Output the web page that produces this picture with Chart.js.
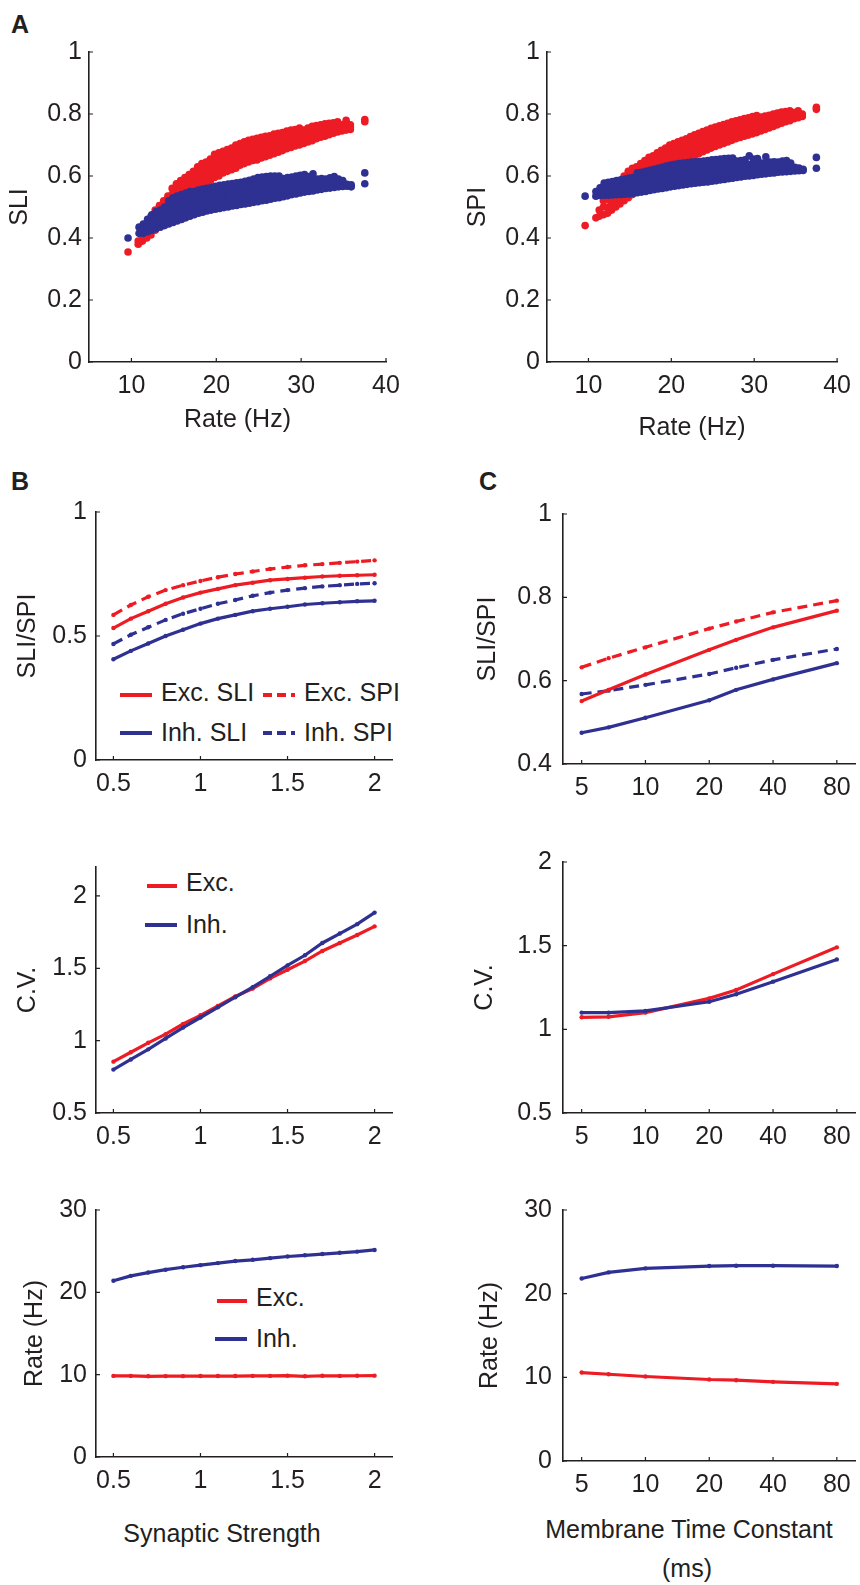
<!DOCTYPE html>
<html>
<head>
<meta charset="utf-8">
<script src="https://cdn.jsdelivr.net/npm/chart.js@4.4.1/dist/chart.umd.min.js"></script>
<style>
  body { margin: 0; background: #fff; width: 860px; height: 1585px; position: relative; overflow: hidden;
         font-family: Arial, 'Liberation Sans', sans-serif; color: #231f20; }
  canvas { position: absolute; }
  .t { position: absolute; font-size: 25px; line-height: 30px; white-space: nowrap; }
  .letter { position: absolute; font-weight: bold; font-size: 25px; line-height: 25px; }
  .ln { position: absolute; height: 4px; }
</style>
</head>
<body>
<div class="letter" style="left:11px;top:12px">A</div>
<div class="letter" style="left:11px;top:469px">B</div>
<div class="letter" style="left:479px;top:469px">C</div>

<!-- legend, B top -->
<div class="ln" style="left:120px;top:693px;width:32px;background:#ed1c24"></div>
<div class="t" style="left:161px;top:677px">Exc. SLI</div>
<div class="ln" style="left:263px;top:693px;width:32px;background:repeating-linear-gradient(90deg,#ed1c24 0 9px,transparent 9px 14px)"></div>
<div class="t" style="left:304px;top:677px">Exc. SPI</div>
<div class="ln" style="left:120px;top:731px;width:32px;background:#2e3192"></div>
<div class="t" style="left:161px;top:717px">Inh. SLI</div>
<div class="ln" style="left:263px;top:731px;width:32px;background:repeating-linear-gradient(90deg,#2e3192 0 9px,transparent 9px 14px)"></div>
<div class="t" style="left:304px;top:717px">Inh. SPI</div>

<!-- legend, B middle -->
<div class="ln" style="left:147px;top:884px;width:30px;background:#ed1c24"></div>
<div class="t" style="left:186px;top:867px">Exc.</div>
<div class="ln" style="left:145px;top:923px;width:32px;background:#2e3192"></div>
<div class="t" style="left:186px;top:909px">Inh.</div>

<!-- legend, B bottom -->
<div class="ln" style="left:217px;top:1299px;width:30px;background:#ed1c24"></div>
<div class="t" style="left:256px;top:1282px">Exc.</div>
<div class="ln" style="left:215px;top:1337px;width:32px;background:#2e3192"></div>
<div class="t" style="left:256px;top:1323px">Inh.</div>

<div class="t" style="left:112px;top:1518px;width:220px;text-align:center">Synaptic Strength</div>
<div class="t" style="left:529px;top:1514px;width:320px;text-align:center">Membrane Time Constant</div>
<div class="t" style="left:637px;top:1553px;width:100px;text-align:center">(ms)</div>

<script>
const RED = '#ed1c24';
const BLUE = '#2e3192';
const INK = '#231f20';
const FAMILY = "Arial, 'Liberation Sans', sans-serif";
const FS = 25;

// ---- A: scatter, columns of [rate, values...] ----
const excSliCols = [
  [9.6,.355],[10.8,.38,.39],[11.3,.39,.405,.42],[11.8,.40,.42,.445],
  [12.3,.41,.425,.44,.455,.47],[12.8,.425,.441,.457,.473,.49],[13.3,.44,.456,.472,.488,.505],
  [13.8,.455,.471,.487,.503,.52],[14.3,.47,.486,.502,.518,.535],[14.8,.49,.507,.524,.541,.56],
  [15.3,.50,.519,.538,.557,.575],[15.8,.515,.532,.55,.568,.585],[16.3,.525,.542,.56,.578,.595],
  [16.8,.54,.556,.572,.588,.605],[17.3,.55,.566,.582,.598,.615],[17.8,.56,.577,.594,.611,.63],
  [18.3,.57,.587,.604,.621,.64],[18.8,.58,.596,.612,.628,.645],[19.3,.585,.602,.619,.636,.655],
  [19.8,.595,.613,.631,.649,.67],[20.3,.60,.618,.636,.654,.675],[20.8,.61,.627,.644,.661,.68],
  [21.3,.615,.632,.649,.667,.685],[21.8,.62,.637,.654,.672,.69],[22.3,.625,.644,.662,.681,.70],
  [22.8,.635,.652,.669,.687,.705],[23.3,.64,.657,.674,.692,.71],[23.8,.645,.662,.679,.697,.715],
  [24.3,.65,.667,.684,.701,.718],[24.8,.652,.67,.688,.705,.722],[25.3,.658,.675,.692,.708,.725],
  [25.8,.662,.679,.695,.712,.728],[26.3,.667,.683,.699,.715,.73],[26.8,.672,.688,.704,.72,.735],
  [27.3,.677,.692,.708,.723,.738],[27.8,.682,.697,.712,.726,.74],[28.3,.688,.702,.716,.731,.745],
  [28.8,.692,.706,.72,.734,.748],[29.3,.697,.71,.723,.737,.75],[29.8,.70,.714,.728,.741,.755],
  [30.3,.705,.72,.734,.748],[30.8,.71,.725,.74,.755],[31.3,.714,.729,.745,.76],[31.8,.72,.734,.749,.763],
  [32.3,.725,.738,.752,.765],[32.8,.728,.742,.755,.768],[33.3,.733,.746,.758,.77],[33.8,.738,.75,.762,.772],
  [34.3,.742,.753,.764,.775],[34.8,.745,.756,.765],[35.3,.748,.76,.77,.78],[35.8,.75,.758,.765],[37.5,.775,.782]
];
const inhSliCols = [
  [9.6,.40],[10.9,.415,.435],[11.4,.415,.43,.445],[11.9,.42,.44,.46],
  [12.4,.425,.445,.465,.475],[12.9,.43,.45,.47,.485],[13.4,.435,.455,.475,.49],
  [13.9,.44,.46,.48,.50],[14.4,.445,.465,.485,.505,.52],[14.9,.45,.47,.49,.51,.53],
  [15.4,.455,.475,.495,.515,.535],[15.9,.46,.48,.50,.52,.54],[16.4,.465,.485,.505,.525,.545],
  [16.9,.47,.49,.51,.53,.55],[17.4,.475,.495,.515,.535,.55],[17.9,.48,.50,.52,.54,.555],
  [18.4,.483,.503,.523,.543,.558],[18.9,.487,.507,.527,.547,.56],[19.4,.49,.51,.53,.55,.563],
  [19.9,.493,.513,.533,.553,.567],[20.4,.495,.515,.535,.555,.57],[20.9,.498,.518,.538,.558,.572],
  [21.4,.50,.52,.54,.56,.574],[21.9,.503,.523,.543,.562,.576],[22.4,.505,.525,.545,.565,.578],
  [22.9,.508,.528,.548,.567,.58],[23.4,.51,.53,.55,.57,.583],[23.9,.512,.532,.552,.572,.586],
  [24.4,.515,.535,.555,.575,.59],[24.9,.517,.537,.557,.577,.595],[25.4,.52,.54,.56,.58,.597],
  [25.9,.522,.542,.562,.582,.598],[26.4,.525,.545,.565,.585,.60],[26.9,.528,.548,.568,.587,.60],
  [27.4,.53,.55,.57,.59,.60],[27.9,.533,.553,.572,.592],[28.4,.536,.556,.575,.595],
  [28.9,.54,.558,.577,.597],[29.4,.542,.56,.58,.60],[29.9,.545,.563,.582,.602],
  [30.4,.548,.565,.584,.605],[30.9,.55,.567,.585,.598],[31.4,.552,.57,.588,.607],
  [31.9,.555,.572,.59],[32.4,.557,.574,.592],[32.9,.56,.576,.59],[33.4,.561,.578,.594],
  [33.9,.563,.58,.598],[34.4,.565,.578,.59],[34.9,.566,.575,.585],[35.4,.567,.573],
  [35.9,.565,.572],[37.5,.575,.61]
];
const excSpiCols = [
  [9.6,.44],[10.9,.465],[11.3,.47,.49],[11.8,.475,.50,.52],
  [12.3,.48,.50,.525,.545],[12.8,.49,.51,.535,.555],[13.3,.50,.52,.545,.565],
  [13.8,.51,.53,.555,.575],[14.3,.52,.54,.565,.585,.60],[14.8,.53,.55,.575,.595,.615],
  [15.3,.54,.56,.585,.605,.625],[15.8,.55,.57,.59,.61,.63],[16.3,.56,.58,.60,.62,.64],
  [16.8,.57,.59,.61,.63,.65],[17.3,.58,.60,.62,.64,.66],[17.8,.59,.61,.63,.65,.665],
  [18.3,.60,.62,.64,.66,.675],[18.8,.605,.625,.645,.665,.683],[19.3,.615,.635,.655,.675,.69],
  [19.8,.625,.645,.665,.685,.70],[20.3,.632,.652,.672,.69,.705],[20.8,.64,.66,.68,.698,.71],
  [21.3,.645,.665,.685,.703,.715],[21.8,.652,.672,.69,.708,.72],[22.3,.66,.68,.698,.715,.727],
  [22.8,.665,.685,.703,.72,.733],[23.3,.672,.69,.708,.725,.738],[23.8,.678,.696,.714,.73,.743],
  [24.3,.684,.702,.72,.736,.748],[24.8,.69,.708,.725,.74,.754],[25.3,.695,.713,.73,.745,.758],
  [25.8,.70,.718,.735,.75,.762],[26.3,.705,.722,.74,.755,.766],[26.8,.71,.727,.744,.76,.77],
  [27.3,.715,.732,.748,.763,.775],[27.8,.72,.737,.752,.767,.778],[28.3,.724,.742,.757,.77,.781],
  [28.8,.728,.746,.761,.774,.785],[29.3,.732,.75,.765,.778,.788],[29.8,.736,.754,.769,.782,.792],
  [30.3,.74,.758,.773,.786,.795],[30.8,.745,.762,.777,.79],[31.3,.75,.766,.78,.793],
  [31.8,.755,.77,.784,.796],[32.3,.76,.774,.788,.80],[32.8,.765,.778,.792,.803],
  [33.3,.77,.782,.795,.806],[33.8,.775,.786,.798,.808],[34.3,.778,.79,.80,.81],
  [34.8,.785,.795,.805],[35.3,.788,.798,.81],[35.8,.792,.80],[37.5,.815,.822]
];
const inhSpiCols = [
  [9.6,.535],[10.9,.535,.55],[11.4,.537,.55,.562],[11.9,.538,.552,.566,.577],
  [12.4,.538,.553,.567,.58],[12.9,.539,.554,.568,.582],[13.4,.54,.555,.57,.585],
  [13.9,.54,.556,.572,.588],[14.4,.541,.557,.574,.59],[14.9,.542,.558,.575,.593],
  [15.4,.544,.56,.577,.595],[15.9,.546,.562,.58,.598,.61],[16.4,.548,.565,.583,.60,.612],
  [16.9,.55,.567,.585,.603,.615],[17.4,.553,.57,.588,.605,.618],[17.9,.556,.573,.59,.607,.622],
  [18.4,.558,.575,.592,.61,.625],[18.9,.56,.577,.595,.612,.628],[19.4,.562,.58,.597,.615,.632],
  [19.9,.565,.582,.60,.617,.635],[20.4,.567,.584,.602,.62,.638],[20.9,.569,.586,.604,.622,.64],
  [21.4,.571,.588,.606,.624,.642],[21.9,.573,.59,.608,.626,.643],[22.4,.575,.592,.61,.628,.645],
  [22.9,.577,.594,.612,.63,.646],[23.4,.578,.596,.614,.632,.647],[23.9,.58,.598,.616,.634,.648],
  [24.4,.581,.60,.618,.636,.65],[24.9,.583,.602,.62,.638,.652],[25.4,.585,.604,.622,.64,.653],
  [25.9,.587,.606,.624,.642,.655],[26.4,.589,.608,.626,.643,.656],[26.9,.591,.61,.628,.645,.657],
  [27.4,.593,.612,.63,.647,.658],[27.9,.595,.614,.632,.648],[28.4,.597,.616,.633,.65],
  [28.9,.599,.618,.635,.652],[29.4,.60,.62,.637,.665],[29.9,.602,.622,.638,.655],
  [30.4,.604,.624,.64,.656],[30.9,.606,.625,.642],[31.4,.607,.626,.643,.662],
  [31.9,.609,.627,.645],[32.4,.61,.628,.646],[32.9,.612,.63,.645],[33.4,.613,.631,.648],
  [33.9,.614,.632,.65],[34.4,.615,.63,.642],[34.9,.616,.628],[35.4,.617,.626],
  [35.9,.618,.622],[37.5,.625,.66]
];

// ---- B: against synaptic strength ----
const strength = [0.5,0.6,0.7,0.8,0.9,1.0,1.1,1.2,1.3,1.4,1.5,1.6,1.7,1.8,1.9,2.0];
const excSliB = [0.532,0.57,0.60,0.63,0.655,0.675,0.69,0.705,0.715,0.725,0.73,0.735,0.74,0.743,0.745,0.747];
const excSpiB = [0.585,0.625,0.658,0.685,0.705,0.722,0.737,0.75,0.76,0.77,0.778,0.785,0.79,0.795,0.80,0.805];
const inhSliB = [0.406,0.44,0.47,0.50,0.525,0.55,0.57,0.585,0.60,0.61,0.618,0.627,0.632,0.636,0.64,0.642];
const inhSpiB = [0.468,0.505,0.535,0.565,0.59,0.61,0.63,0.645,0.662,0.675,0.685,0.693,0.70,0.705,0.71,0.713];
const excCvB = [0.855,0.92,0.985,1.045,1.115,1.175,1.24,1.305,1.36,1.43,1.49,1.55,1.62,1.675,1.73,1.79];
const inhCvB = [0.80,0.87,0.94,1.015,1.09,1.16,1.23,1.30,1.37,1.445,1.52,1.59,1.675,1.74,1.805,1.885];
const excRateB = [9.85,9.85,9.8,9.82,9.82,9.83,9.83,9.83,9.85,9.85,9.88,9.8,9.87,9.85,9.87,9.88];
const inhRateB = [21.4,22.0,22.4,22.75,23.05,23.3,23.55,23.8,23.95,24.15,24.35,24.5,24.65,24.8,24.95,25.15];

// ---- C: against membrane time constant (ms) ----
const tau = [5,6.7,10,20,26.8,40,80];
const excSliC = [0.551,0.578,0.615,0.674,0.698,0.728,0.768];
const excSpiC = [0.632,0.654,0.680,0.725,0.742,0.764,0.792];
const inhSliC = [0.475,0.488,0.511,0.553,0.578,0.603,0.642];
const inhSpiC = [0.568,0.576,0.590,0.616,0.631,0.650,0.676];
const excCvC = [1.072,1.075,1.10,1.185,1.235,1.33,1.49];
const inhCvC = [1.10,1.10,1.11,1.165,1.21,1.285,1.418];
const excRateC = [10.57,10.37,10.1,9.74,9.66,9.46,9.22];
const inhRateC = [21.82,22.54,23.02,23.3,23.34,23.34,23.3];

const rateTicks = [10,20,30,40];
const unitTicks = [0,0.2,0.4,0.6,0.8,1];
const strengthTicks = [0.5,1,1.5,2];
const tauTicks = [5,10,20,40,80];

const cols = (c) => c.flatMap(([x, ...ys]) => ys.map((y) => ({ x, y })));
const zip = (xs, ys) => xs.map((x, i) => ({ x, y: ys[i] }));

// MATLAB-style short ticks pointing into the plot
const inTicks = {
  id: 'inTicks',
  afterDraw(chart) {
    const { ctx, chartArea: a, scales: { x, y } } = chart;
    ctx.save();
    ctx.strokeStyle = INK;
    ctx.lineWidth = 1.2;
    ctx.beginPath();
    x.ticks.forEach((t) => { const p = x.getPixelForValue(t.value); ctx.moveTo(p, a.bottom); ctx.lineTo(p, a.bottom - 4); });
    y.ticks.forEach((t) => { const p = y.getPixelForValue(t.value); ctx.moveTo(a.left, p); ctx.lineTo(a.left + 4, p); });
    ctx.stroke();
    ctx.restore();
  },
};

function axis(o, dir, size) {
  return {
    type: o.type || 'linear',
    min: o.min,
    max: o.max,
    afterBuildTicks: (s) => { s.ticks = o.ticks.map((v) => ({ value: v })); },
    afterFit: (s) => { if (dir === 'x') s.height = size; else s.width = size; },
    grid: { display: false, drawTicks: false },
    border: { display: true, color: INK, width: 1.6 },
    ticks: {
      color: INK, padding: o.pad ?? 9, maxRotation: 0, autoSkip: false,
      font: { size: FS, family: FAMILY, lineHeight: 1.2 },
      callback: (v) => String(v),
    },
    title: o.title
      ? { display: true, text: o.title, color: INK, font: { size: FS, family: FAMILY, lineHeight: 1.2 },
          padding: { top: o.tpad || 0, bottom: 0 } }
      : { display: false },
  };
}

function panel(box, area, type, datasets, x, y) {
  const c = document.createElement('canvas');
  c.width = box.w;
  c.height = box.h;
  c.style.left = box.x + 'px';
  c.style.top = box.y + 'px';
  document.body.appendChild(c);
  return new Chart(c, {
    type,
    data: { datasets },
    options: {
      animation: false,
      responsive: false,
      events: [],
      layout: { padding: { top: area.t - box.y, right: box.x + box.w - area.r, left: 0, bottom: 0 } },
      plugins: { legend: { display: false }, tooltip: { enabled: false } },
      scales: { x: axis(x, 'x', box.y + box.h - area.b), y: axis(y, 'y', area.l - box.x) },
    },
    plugins: [inTicks],
  });
}

const dots = (data, color) => ({ data, backgroundColor: color, borderWidth: 0, pointRadius: 3.8 });
const line = (data, color, dashed) => ({
  data, borderColor: color, backgroundColor: color, borderWidth: 3.2,
  borderDash: dashed ? [10, 6] : [], pointRadius: 2.2, pointBorderWidth: 0, pointBackgroundColor: color,
});

// A
panel({ x: 0, y: 0, w: 430, h: 435 }, { l: 89, t: 52, r: 386, b: 362 }, 'scatter',
  [dots(cols(inhSliCols), BLUE), dots(cols(excSliCols), RED)],
  { min: 5, max: 40, ticks: rateTicks, title: 'Rate (Hz)' },
  { min: 0, max: 1, ticks: unitTicks, pad: 7, title: 'SLI', tpad: 5 });
panel({ x: 430, y: 0, w: 430, h: 443 }, { l: 547, t: 52, r: 843, b: 362 }, 'scatter',
  [dots(cols(inhSpiCols), BLUE), dots(cols(excSpiCols), RED)],
  { min: 5, max: 40, ticks: rateTicks, title: 'Rate (Hz)' },
  { min: 0, max: 1, ticks: unitTicks, pad: 7, title: 'SPI', tpad: 33 });

// B
const sx = { min: 0.4, max: 2.1, ticks: strengthTicks };
panel({ x: 0, y: 440, w: 430, h: 370 }, { l: 96, t: 512, r: 392, b: 760 }, 'line',
  [line(zip(strength, excSliB), RED), line(zip(strength, excSpiB), RED, true),
   line(zip(strength, inhSliB), BLUE), line(zip(strength, inhSpiB), BLUE, true)],
  sx, { min: 0, max: 1, ticks: [0, 0.5, 1], pad: 9, title: 'SLI/SPI', tpad: 13 });
panel({ x: 0, y: 830, w: 430, h: 330 }, { l: 96, t: 867, r: 392, b: 1113 }, 'line',
  [line(zip(strength, inhCvB), BLUE), line(zip(strength, excCvB), RED)],
  sx, { min: 0.5, max: 2.2, ticks: [0.5, 1, 1.5, 2], pad: 9, title: 'C.V.', tpad: 13 });
panel({ x: 0, y: 1170, w: 430, h: 330 }, { l: 96, t: 1210, r: 392, b: 1457 }, 'line',
  [line(zip(strength, excRateB), RED), line(zip(strength, inhRateB), BLUE)],
  sx, { min: 0, max: 30, ticks: [0, 10, 20, 30], pad: 9, title: 'Rate (Hz)', tpad: 20 });

// C
const tx = { type: 'logarithmic', min: 4.083, max: 97.96, ticks: tauTicks };
panel({ x: 430, y: 440, w: 430, h: 370 }, { l: 563, t: 514, r: 860, b: 764 }, 'line',
  [line(zip(tau, excSliC), RED), line(zip(tau, excSpiC), RED, true),
   line(zip(tau, inhSliC), BLUE), line(zip(tau, inhSpiC), BLUE, true)],
  tx, { min: 0.4, max: 1, ticks: [0.4, 0.6, 0.8, 1], pad: 11, title: 'SLI/SPI', tpad: 43 });
panel({ x: 430, y: 830, w: 430, h: 330 }, { l: 563, t: 862, r: 860, b: 1113 }, 'line',
  [line(zip(tau, inhCvC), BLUE), line(zip(tau, excCvC), RED)],
  tx, { min: 0.5, max: 2, ticks: [0.5, 1, 1.5, 2], pad: 11, title: 'C.V.', tpad: 40 });
panel({ x: 430, y: 1170, w: 430, h: 330 }, { l: 563, t: 1210, r: 860, b: 1461 }, 'line',
  [line(zip(tau, excRateC), RED), line(zip(tau, inhRateC), BLUE)],
  tx, { min: 0, max: 30, ticks: [0, 10, 20, 30], pad: 11, title: 'Rate (Hz)', tpad: 45 });
</script>
</body>
</html>
